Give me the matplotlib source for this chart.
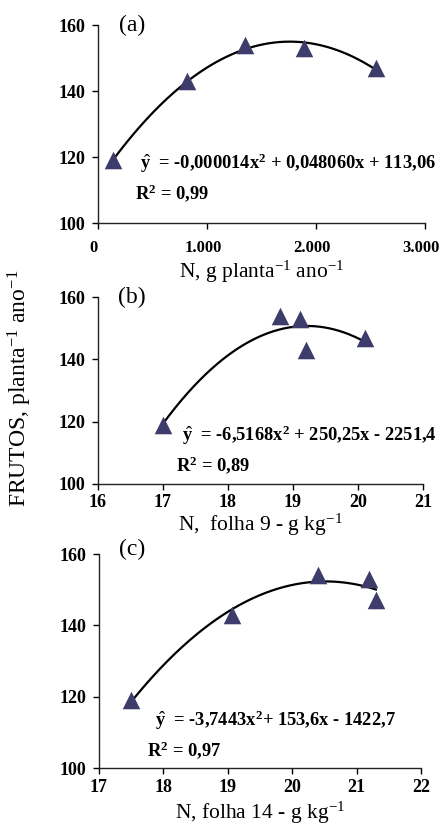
import numpy as np
import matplotlib
matplotlib.use("Agg")
import matplotlib.pyplot as plt
from matplotlib.transforms import ScaledTranslation

# Data
xa = [140, 820, 1350, 1890, 2550]
ya = [119, 143, 154, 153, 147]
xb = [17.0, 18.8, 19.1, 19.2, 20.1]
yb = [119, 154, 153, 143, 147]
xc = [17.5, 19.07, 20.4, 21.2, 21.3]
yc = [119, 143, 154, 153, 147]

xlim_a, xticks_a, xticklabels_a = (0, 3000), [0, 1000, 2000, 3000], ["0", "1.000", "2.000", "3.000"]
xlim_b, xticks_b = (16, 21), [16, 17, 18, 19, 20, 21]
xlim_c, xticks_c = (17, 22), [17, 18, 19, 20, 21, 22]
yticks = [100, 120, 140, 160]

eq_a = r"$\hat{\mathbf{y}}$  = -0,000014x$^{\mathbf{2}}$ + 0,048060x + 113,06"
eq_b = r"$\hat{\mathbf{y}}$  = -6,5168x$^{\mathbf{2}}$ + 250,25x - 2251,4"
eq_c = r"$\hat{\mathbf{y}}$  = -3,7443x$^{\mathbf{2}}$+ 153,6x - 1422,7"
r2_a = r"R$^{\mathbf{2}}$ = 0,99"
r2_b = r"R$^{\mathbf{2}}$ = 0,89"
r2_c = r"R$^{\mathbf{2}}$ = 0,97"

plt.rcParams['font.family'] = ['Liberation Serif', 'DejaVu Serif']
plt.rcParams['mathtext.fontset'] = 'custom'
plt.rcParams['mathtext.rm'] = 'Liberation Serif'
plt.rcParams['mathtext.bf'] = 'Liberation Serif:bold'
plt.rcParams['mathtext.it'] = 'Liberation Serif:italic'

W, H = 443, 826
fig = plt.figure(figsize=(W / 100, H / 100), dpi=100)

def rect(l, r, t, b):
    return [l / W, 1 - b / H, (r - l) / W, (b - t) / H]

axes = [
    fig.add_axes(rect(98, 425, 25, 223)),
    fig.add_axes(rect(98, 423, 297, 484)),
    fig.add_axes(rect(99, 421, 554, 768)),
]

panels = [
    (xa, ya, xlim_a, xticks_a, xticklabels_a, "(a)", eq_a, r2_a,
     r"N, g planta$^{\mathregular{-1}}$ ano$^{\mathregular{-1}}$", (0.128, 0.303), (0.113, 0.152), 8, 2, 1.0),
    (xb, yb, xlim_b, xticks_b, [str(t) for t in xticks_b], "(b)", eq_b, r2_b,
     r"N,  folha 9 - g kg$^{\mathregular{-1}}$", (0.26, 0.262), (0.24, 0.10), 3, 1, 1.0),
    (xc, yc, xlim_c, xticks_c, [str(t) for t in xticks_c], "(c)", eq_c, r2_c,
     r"N, folha 14 - g kg$^{\mathregular{-1}}$", (0.174, 0.224), (0.149, 0.084), 4, 3, 1.02),
]

tri_color = '#3d3c6b'
for i, (ax, (x, y, xl, xt, xtl, lab, eq, r2, xlab, eqpos, r2pos, xpad, lpad, laby)) in enumerate(zip(axes, panels)):
    c = np.polyfit(x, y, 2)
    xs = np.linspace(min(x), max(x), 200)
    ax.plot(xs, np.polyval(c, xs), color='black', lw=1.6, zorder=2)
    ax.scatter(x, y, marker='^', s=160, color=tri_color, zorder=3, linewidths=0)
    ax.set_xlim(*xl)
    ax.set_ylim(100, 160)
    ax.set_xticks(xt)
    ax.set_xticklabels(xtl)
    ax.set_yticks(yticks)
    for s in ['top', 'right']:
        ax.spines[s].set_visible(False)
    for s in ['left', 'bottom']:
        ax.spines[s].set_linewidth(1.0)
        ax.spines[s].set_color('#222222')
    ax.tick_params(direction='out', length=4, width=1.0, labelsize=13)
    if i == 0:
        ax.tick_params(axis='x', labelsize=12)
    ax.tick_params(axis='x', pad=xpad)
    ax.tick_params(axis='y', pad=5)
    for t in ax.get_xticklabels() + ax.get_yticklabels():
        t.set_fontweight('bold')
    if i == 0:
        off = ScaledTranslation(-4 / 100, 0, fig.dpi_scale_trans)
        for t in ax.get_xticklabels():
            t.set_transform(t.get_transform() + off)
    ax.set_xlabel(xlab, fontsize=15.5, labelpad=lpad)
    ax.text(0.104, laby, lab, transform=ax.transAxes, fontsize=17, va='center', ha='center')
    ax.text(eqpos[0], eqpos[1], eq, transform=ax.transAxes, fontsize=13.3, fontweight='bold', va='center')
    ax.text(r2pos[0], r2pos[1], r2, transform=ax.transAxes, fontsize=13.3, fontweight='bold', va='center')
    ax.patch.set_alpha(0)

fig.text(20 / W, 1 - 388 / H, r"FRUTOS, planta$^{\mathregular{-1}}$ ano$^{\mathregular{-1}}$",
         rotation=90, fontsize=17, ha='center', va='center')

fig.savefig("out.png", dpi=100)
